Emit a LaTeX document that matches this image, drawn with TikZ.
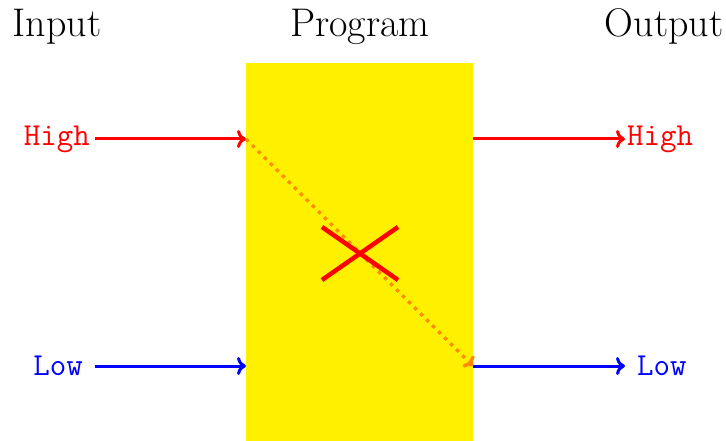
\documentclass[tikz,border=0pt]{standalone}
\usetikzlibrary{arrows.meta}
\begin{document}
\begin{tikzpicture}[x=1pt,y=-1pt,
  title/.style={font=\fontsize{40}{44}\selectfont, anchor=base},
  lvl/.style={font=\ttfamily\fontsize{32}{36}\selectfont, inner sep=0pt},
  flow/.style={line width=3pt, -{To[length=9pt,width=18pt]}},
  cross/.style={red, line width=4.5pt}]
\definecolor{progyellow}{RGB}{255,240,0}
\definecolor{dotorange}{RGB}{255,140,0}
\useasboundingbox (0,0) rectangle (726,441);
\node[fill=progyellow, minimum width=227pt, minimum height=378pt, inner sep=0pt, anchor=north west] (prog) at (246,63) {};
\node[title] (tin) at (57,37) {Input};
\node[title] (tprog) at (360,37) {Program};
\node[title] (tout) at (664,37) {Output};
\node[lvl, red, anchor=east] (hin) at (90,139) {High};
\node[lvl, blue, anchor=east] (lin) at (83,366) {Low};
\node[lvl, red, anchor=west] (hout) at (627,139) {High};
\node[lvl, blue, anchor=west] (lout) at (637,366) {Low};
\coordinate (pinh) at (246,139);
\coordinate (pinl) at (246,366);
\coordinate (pouth) at (473,139);
\coordinate (poutl) at (473,366);
\draw[flow, red] (hin.east) ++(5,0) -- (pinh);
\draw[flow, blue] (lin.east) ++(12,0) -- (pinl);
\draw[flow, red] (pouth) -- ([xshift=-2pt]hout.west);
\draw[flow, blue] (poutl) -- ([xshift=-12pt]lout.west);
\draw[dotorange, line width=3.5pt, dash pattern=on 3.5pt off 5pt, -{To[length=8pt,width=16pt]}] (pinh) -- (poutl);
\draw[cross] (322,227) -- (398,280);
\draw[cross] (322,280) -- (398,227);
\end{tikzpicture}
\end{document}
